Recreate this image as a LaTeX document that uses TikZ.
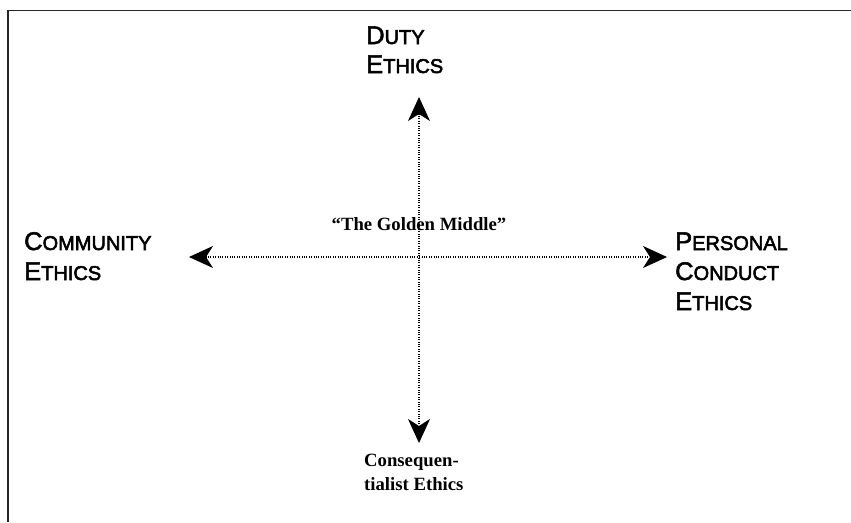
\documentclass[tikz,border=0pt]{standalone}
\usepackage{fontspec}
\setmainfont{Liberation Serif}
\newfontfamily\labelsans{Liberation Sans}
\usetikzlibrary{arrows.meta}

% text drawn filled and stroked for a slightly heavier weight
\newcommand{\heavy}[1]{\special{pdf:literal direct 2 Tr 0.55 w}#1\special{pdf:literal direct 0 Tr}}
% faked small capitals: large initial, smaller remaining capitals
\newcommand{\fakesc}[2]{\heavy{{\fontsize{25.5}{25.5}\selectfont #1}{\fontsize{20}{20}\selectfont #2}}}

\tikzset{
  frameline/.style={line width=1.6pt, draw=black!85},
  axisline/.style={line width=1.4pt, dash pattern=on 1pt off 1.4pt,
    {Stealth[length=24pt,width=22pt,inset=7pt]}-{Stealth[length=24pt,width=22pt,inset=7pt]}},
  caplabel/.style={inner sep=0pt, anchor=base west, font=\labelsans},
  seriflabel/.style={inner sep=0pt, font=\bfseries\fontsize{18.7}{23.5}\selectfont},
}

\begin{document}
\begin{tikzpicture}[x=1pt,y=-1pt]
  \useasboundingbox (0,0) rectangle (851,522);

  % open frame: top and left edges only
  \draw[frameline] (851,10.5) -- (8,10.5) -- (8,522);

  % axis end points
  \coordinate (N) at (419,97);
  \coordinate (S) at (419,443);
  \coordinate (W) at (189,257);
  \coordinate (E) at (667,257);

  \draw[axisline] (W) -- (E);
  \draw[axisline] (N) -- (S);

  % top
  \node[caplabel] (duty1) at (366,44) {\fakesc{D}{UTY}};
  \node[caplabel] (duty2) at (366,73) {\fakesc{E}{THICS}};

  % left
  \node[caplabel] (comm1) at (24,250) {\fakesc{C}{OMMUNITY}};
  \node[caplabel] (comm2) at (24,280) {\fakesc{E}{THICS}};

  % right
  \node[caplabel] (pers1) at (675,250) {\fakesc{P}{ERSONAL}};
  \node[caplabel] (pers2) at (675,280) {\fakesc{C}{ONDUCT}};
  \node[caplabel] (pers3) at (675,310) {\fakesc{E}{THICS}};

  % centre
  \node[seriflabel, anchor=base] (golden) at (419,230) {“The Golden Middle”};

  % bottom
  \node[seriflabel, anchor=north west, align=left] (conseq) at (364,454)
    {Consequen-\\tialist Ethics};
\end{tikzpicture}
\end{document}
